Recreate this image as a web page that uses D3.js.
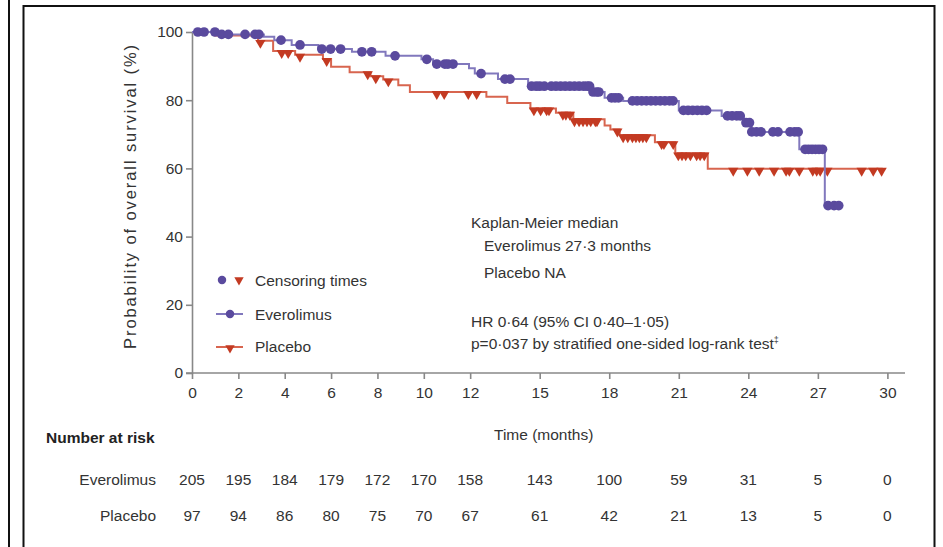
<!DOCTYPE html>
<html>
<head>
<meta charset="utf-8">
<script src="https://cdn.jsdelivr.net/npm/d3@7"></script>
<style>
  body { margin: 0; background: #fff; }
  svg { display: block; font-family: "Liberation Sans", Arial, sans-serif; }
</style>
</head>
<body>
<div id="chart"></div>
<script>
// ticks
const xTicks = [0, 2, 4, 6, 8, 10, 12, 15, 18, 21, 24, 27, 30];
const yTicks = [0, 20, 40, 60, 80, 100];

// Everolimus: step changes [month, survival %]
const everSteps = [
  [0, 100], [1.1, 99.3], [3.1, 98.6], [3.55, 97.6], [4.3, 96.2], [5.45, 95.0],
  [6.9, 94.2], [8.35, 93.0], [9.9, 92.0], [10.4, 90.6], [11.95, 89.4], [12.2, 87.8],
  [13.2, 86.2], [14.5, 84.1], [17.25, 82.4], [17.8, 80.7], [18.6, 79.8], [21.0, 77.0],
  [22.85, 75.4], [23.8, 73.4], [24.1, 70.7], [26.2, 65.6], [27.3, 49.1]
];
const everEnd = 28.0;
// Everolimus censoring times (months)
const everCensor = [
  0.25, 0.52, 0.99, 1.28, 1.57, 2.29, 2.72, 2.89, 3.84, 4.66, 5.6, 5.98, 6.41,
  7.33, 7.75, 8.76, 10.13, 10.56, 10.91, 11.04, 11.26, 12.47, 13.5, 13.72,
  14.65, 14.85, 15.0, 15.2, 15.5, 15.7, 15.9, 16.1, 16.3, 16.5, 16.7, 16.9, 17.05, 17.15,
  17.3, 17.45, 17.55, 18.1, 18.25, 18.4,
  19.0, 19.2, 19.4, 19.6, 19.8, 20.0, 20.2, 20.4, 20.6, 20.75,
  21.2, 21.4, 21.6, 21.8, 22.0, 22.2, 23.1, 23.3, 23.5, 23.65, 23.9, 24.05,
  24.15, 24.35, 24.55, 25.06, 25.28, 25.8, 26.0, 26.15,
  26.45, 26.6, 26.75, 26.9, 27.05, 27.2, 27.44, 27.7, 27.9
];

// Placebo: step changes [month, survival %]
const placSteps = [
  [0, 100], [1.0, 99.0], [2.85, 97.4], [3.5, 94.4], [4.45, 93.3], [5.65, 92.1],
  [6.0, 89.8], [6.8, 88.2], [7.7, 87.0], [8.25, 86.1], [8.9, 84.4], [9.4, 82.4],
  [12.7, 81.0], [13.6, 79.2], [14.6, 77.6], [15.7, 76.3], [16.45, 74.4], [17.8, 72.6],
  [18.05, 71.4], [18.45, 69.7], [19.97, 67.7], [20.85, 64.4], [22.25, 59.9]
];
const placEnd = 29.8;
const placCensor = [
  2.95, 3.87, 4.15, 4.66, 5.81, 7.58, 7.93, 8.47, 10.56, 10.88, 11.92, 12.28,
  14.75, 15.04, 15.3, 15.4, 16.0, 16.13, 16.3,
  16.5, 16.7, 16.87, 17.04, 17.2, 17.4, 17.47, 18.35,
  18.6, 18.8, 19.0, 19.15, 19.3, 19.45, 19.6, 20.26, 20.36, 20.76,
  20.98, 21.14, 21.3, 21.5, 21.77, 21.92, 22.1,
  23.35, 23.96, 24.47, 25.11, 25.63, 25.77, 26.2, 26.78, 26.95, 27.1, 27.41,
  28.89, 29.39, 29.75
];

// number at risk
const riskTimes = [0, 2, 4, 6, 8, 10, 12, 15, 18, 21, 24, 27, 30];
const everRisk = [205, 195, 184, 179, 172, 170, 158, 143, 100, 59, 31, 5, 0];
const placRisk = [97, 94, 86, 80, 75, 70, 67, 61, 42, 21, 13, 5, 0];

const purple = '#5a4a9e', purpleLine = '#8178bd';
const red = '#c33a22', redLine = '#d8654f';
const fs = 15.5;

const svg = d3.select('#chart').append('svg')
  .attr('width', 943)
  .attr('height', 547);

// frames
svg.append('line').attr('x1', 9).attr('x2', 9).attr('y1', 0).attr('y2', 547)
  .style('stroke', '#111').style('stroke-width', 2);
svg.append('path').attr('d', 'M23.5,547V6H934.5V547')
  .style('fill', 'none').style('stroke', '#111').style('stroke-width', 2);

const x = d3.scaleLinear().domain([0, 30]).range([192, 887.4]);
const y = d3.scaleLinear().domain([0, 100]).range([373, 32]);

// axes
const xAxis = svg.append('g')
  .attr('transform', 'translate(0,373)')
  .call(d3.axisBottom(x).tickValues(xTicks).tickSize(6).tickPadding(8).tickSizeOuter(0));
xAxis.select('.domain').attr('d', 'M186,0H905');

const yAxis = svg.append('g')
  .attr('transform', 'translate(192,0)')
  .call(d3.axisLeft(y).tickValues(yTicks).tickSize(6).tickPadding(3).tickSizeOuter(0));

svg.selectAll('.domain, .tick line')
  .style('stroke', '#888')
  .style('stroke-width', 1.6);
svg.selectAll('.tick text')
  .style('font-size', fs + 'px')
  .style('fill', '#333')
  .style('font-family', '"Liberation Sans", Arial, sans-serif');

svg.append('text')
  .attr('transform', 'translate(136,196) rotate(-90)')
  .attr('text-anchor', 'middle')
  .style('font-size', '16.5px')
  .style('letter-spacing', '1.9px')
  .style('fill', '#333')
  .text('Probability of overall survival (%)');

// survival at time t
function survAt(steps, t) {
  let s = steps[0][1];
  steps.forEach(function(d) { if (d[0] <= t) s = d[1]; });
  return s;
}

const line = d3.line()
  .x(d => x(d[0]))
  .y(d => y(d[1]))
  .curve(d3.curveStepAfter);

function drawArm(steps, end, censor, lineColor, markColor, shape) {
  const pts = steps.concat([[end, steps[steps.length - 1][1]]]);
  svg.append('path')
    .datum(pts)
    .attr('d', line)
    .style('fill', 'none')
    .style('stroke', lineColor)
    .style('stroke-width', 2);

  const sym = shape === 'circle'
    ? d3.symbol().type(d3.symbolCircle).size(74)
    : d3.symbol().type(d3.symbolTriangle).size(46);

  svg.append('g').selectAll('path')
    .data(censor)
    .join('path')
    .attr('d', sym)
    .attr('transform', function(t) {
      if (shape === 'circle') return 'translate(' + x(t) + ',' + y(survAt(steps, t)) + ')';
      return 'translate(' + x(t) + ',' + (y(survAt(steps, t)) + 2) + ') rotate(180)';
    })
    .style('fill', markColor);
}

drawArm(placSteps, placEnd, placCensor, redLine, red, 'triangle');
drawArm(everSteps, everEnd, everCensor, purpleLine, purple, 'circle');

// legend
const legend = svg.append('g');
legend.append('path').attr('d', d3.symbol().type(d3.symbolCircle).size(56))
  .attr('transform', 'translate(222,280)').style('fill', purple);
legend.append('path').attr('d', d3.symbol().type(d3.symbolTriangle).size(38))
  .attr('transform', 'translate(239,280) rotate(180)').style('fill', red);
legend.append('line').attr('x1', 216).attr('x2', 243).attr('y1', 314).attr('y2', 314)
  .style('stroke', purpleLine).style('stroke-width', 2);
legend.append('path').attr('d', d3.symbol().type(d3.symbolCircle).size(56))
  .attr('transform', 'translate(230,314)').style('fill', purple);
legend.append('line').attr('x1', 216).attr('x2', 243).attr('y1', 347).attr('y2', 347)
  .style('stroke', redLine).style('stroke-width', 2);
legend.append('path').attr('d', d3.symbol().type(d3.symbolTriangle).size(38))
  .attr('transform', 'translate(230,348) rotate(180)').style('fill', red);

const legendLabels = ['Censoring times', 'Everolimus', 'Placebo'];
const legendY = [285.5, 319.5, 352];
legend.selectAll('text.lab')
  .data(legendLabels)
  .join('text')
  .attr('class', 'lab')
  .attr('x', 255)
  .attr('y', (d, i) => legendY[i])
  .style('font-size', fs + 'px')
  .style('fill', '#333')
  .text(d => d);

// annotation
const notes = [
  ['Kaplan-Meier median', 471, 227.5],
  ['Everolimus 27·3 months', 484, 251],
  ['Placebo NA', 484, 278],
  ['HR 0·64 (95% CI 0·40–1·05)', 471, 327],
  ['p=0·037 by stratified one-sided log-rank test', 471, 348.5]
];
svg.append('g').selectAll('text')
  .data(notes)
  .join('text')
  .attr('x', d => d[1])
  .attr('y', d => d[2])
  .style('font-size', fs + 'px')
  .style('fill', '#333')
  .text(d => d[0])
  .filter((d, i) => i === 4)
  .append('tspan')
  .attr('dy', -6)
  .style('font-size', '9px')
  .text('‡');

svg.append('text')
  .attr('x', 494).attr('y', 439.5)
  .style('font-size', fs + 'px')
  .style('fill', '#333')
  .text('Time (months)');

// number at risk table
svg.append('text')
  .attr('x', 46).attr('y', 443)
  .style('font-size', fs + 'px')
  .style('font-weight', 'bold')
  .style('fill', '#222')
  .text('Number at risk');

const rows = [['Everolimus', everRisk, 484.5], ['Placebo', placRisk, 520.5]];
rows.forEach(function(r) {
  svg.append('text')
    .attr('x', 156).attr('y', r[2])
    .attr('text-anchor', 'end')
    .style('font-size', fs + 'px')
    .style('fill', '#333')
    .text(r[0]);
  svg.append('g').selectAll('text')
    .data(r[1])
    .join('text')
    .attr('x', (d, i) => x(riskTimes[i]))
    .attr('y', r[2])
    .attr('text-anchor', 'middle')
    .style('font-size', fs + 'px')
    .style('fill', '#333')
    .text(d => d);
});
</script>
</body>
</html>
